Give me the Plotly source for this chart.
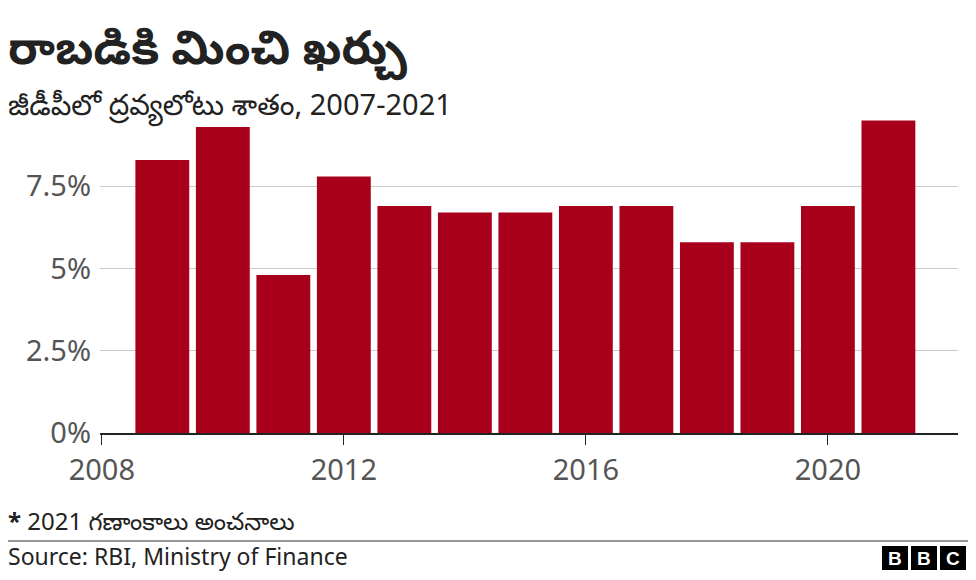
import plotly.graph_objects as go

years = [2009, 2010, 2011, 2012, 2013, 2014, 2015, 2016, 2017, 2018, 2019, 2020, 2021]
deficit = [8.3, 9.3, 4.8, 7.8, 6.9, 6.7, 6.7, 6.9, 6.9, 5.8, 5.8, 6.9, 9.5]
x_ticks = [2008, 2012, 2016, 2020]
y_ticks = [0, 2.5, 5, 7.5]
y_labels = ["0%", "2.5%", "5%", "7.5%"]

font = "Noto Sans, Noto Sans Telugu, Helvetica, Arial, sans-serif"

# plot area on the page: x 100..958 px, y 110..433 px (page has an 8px body margin)
def px(x):
    return (x - 100) / 858.0

def py(y):
    return (433 - y) / 323.0

fig = go.Figure(go.Bar(x=years, y=deficit, width=0.89, marker_color="#a8001a",
                       marker_line_width=0))

fig.update_layout(
    width=960, height=564,
    margin=dict(l=92, r=10, t=102, b=139, autoexpand=False),
    plot_bgcolor="white", paper_bgcolor="white",
    font=dict(family=font, color="#222"),
    showlegend=False,
    xaxis=dict(range=[2007.97, 2022.15], tickvals=x_ticks, ticks="outside", ticklen=10,
               tickcolor="#222", showline=True, linecolor="#222", linewidth=2,
               showgrid=False, tickfont=dict(size=29, color="#555")),
    yaxis=dict(range=[0, 9.82], tickvals=y_ticks, ticktext=y_labels, showgrid=True,
               gridcolor="#cccccc", zeroline=False, ticks="",
               tickfont=dict(size=29, color="#555"), ticklabelstandoff=8),
    annotations=[
        dict(text="<b>రాబడికి మించి ఖర్చు</b>", x=px(6), y=py(12), xref="paper", yref="paper",
             xanchor="left", yanchor="top", showarrow=False, font=dict(size=47, color="#222")),
        dict(text="జీడీపీలో ద్రవ్యలోటు శాతం, 2007-2021", x=px(6), y=py(82), xref="paper",
             yref="paper", xanchor="left", yanchor="top", showarrow=False,
             font=dict(size=29, color="#222")),
        dict(text="<b>*</b> 2021 గణాంకాలు అంచనాలు", x=px(6), y=py(520), xref="paper",
             yref="paper", xanchor="left", yanchor="middle", showarrow=False,
             font=dict(size=24, color="#222")),
        dict(text="Source: RBI, Ministry of Finance", x=px(6), y=py(556), xref="paper",
             yref="paper", xanchor="left", yanchor="middle", showarrow=False,
             font=dict(size=23, color="#222")),
    ],
    shapes=[dict(type="line", xref="paper", yref="paper", x0=px(0), x1=px(976),
                 y0=py(541), y1=py(541), line=dict(color="#333", width=1))],
)

# BBC logo blocks
for i, letter in enumerate("BBC"):
    x0 = 882 + i * 29
    fig.add_shape(type="rect", xref="paper", yref="paper", x0=px(x0), x1=px(x0 + 26),
                  y0=py(570), y1=py(546), fillcolor="#000", line_width=0, layer="below")
    fig.add_annotation(text="<b>%s</b>" % letter, x=px(x0 + 13), y=py(558), xref="paper",
                       yref="paper", xanchor="center", yanchor="middle", showarrow=False,
                       font=dict(size=19, color="white", family="Arial"))

fig.write_html("out.html")
